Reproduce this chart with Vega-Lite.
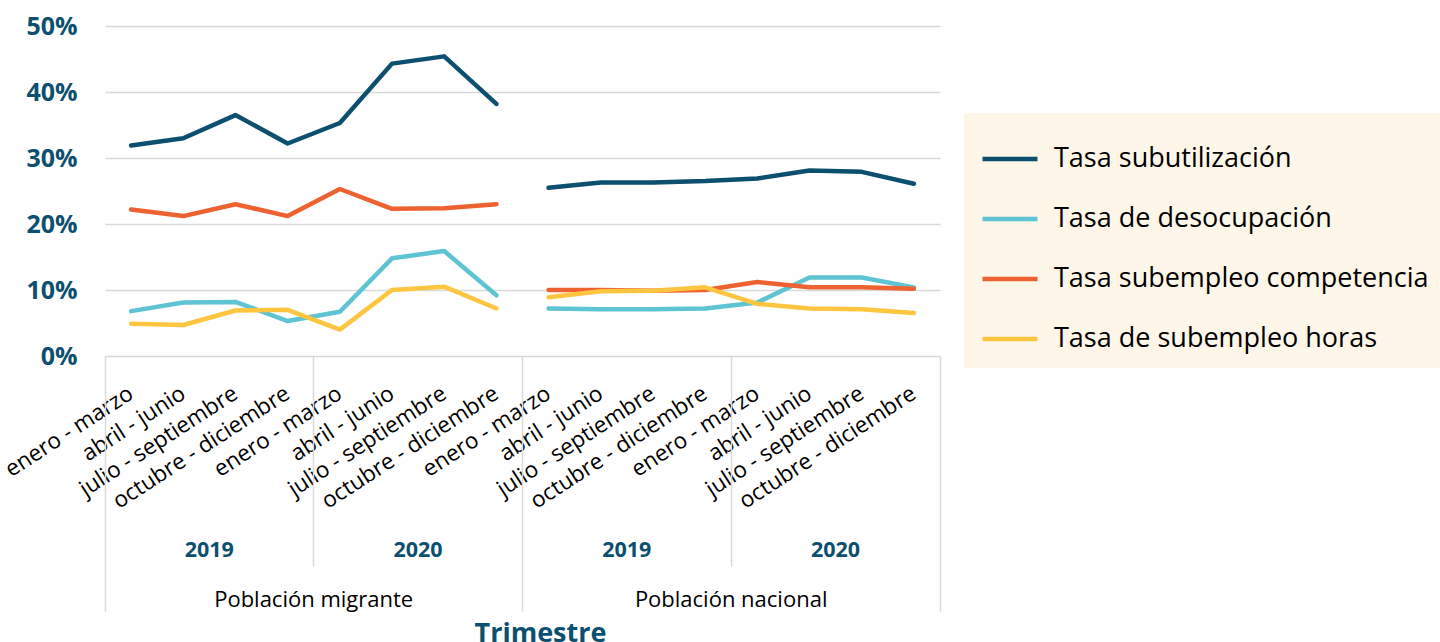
{
  "$schema": "https://vega.github.io/schema/vega-lite/v6.json",
  "width": 835,
  "height": 330,
  "autosize": "none",
  "padding": {"left": 105, "top": 26, "right": 500, "bottom": 286},
  "background": "white",
  "config": {"view": {"stroke": null}, "font": "Open Sans"},
  "data": {"values": [
    {"k":"Población migrante|2019|enero - marzo","p":"M","s":"Tasa subutilización","v":0.319},
    {"k":"Población migrante|2019|abril - junio","p":"M","s":"Tasa subutilización","v":0.330},
    {"k":"Población migrante|2019|julio - septiembre","p":"M","s":"Tasa subutilización","v":0.365},
    {"k":"Población migrante|2019|octubre - diciembre","p":"M","s":"Tasa subutilización","v":0.322},
    {"k":"Población migrante|2020|enero - marzo","p":"M","s":"Tasa subutilización","v":0.353},
    {"k":"Población migrante|2020|abril - junio","p":"M","s":"Tasa subutilización","v":0.443},
    {"k":"Población migrante|2020|julio - septiembre","p":"M","s":"Tasa subutilización","v":0.454},
    {"k":"Población migrante|2020|octubre - diciembre","p":"M","s":"Tasa subutilización","v":0.382},
    {"k":"Población nacional|2019|enero - marzo","p":"N","s":"Tasa subutilización","v":0.255},
    {"k":"Población nacional|2019|abril - junio","p":"N","s":"Tasa subutilización","v":0.263},
    {"k":"Población nacional|2019|julio - septiembre","p":"N","s":"Tasa subutilización","v":0.263},
    {"k":"Población nacional|2019|octubre - diciembre","p":"N","s":"Tasa subutilización","v":0.265},
    {"k":"Población nacional|2020|enero - marzo","p":"N","s":"Tasa subutilización","v":0.269},
    {"k":"Población nacional|2020|abril - junio","p":"N","s":"Tasa subutilización","v":0.281},
    {"k":"Población nacional|2020|julio - septiembre","p":"N","s":"Tasa subutilización","v":0.279},
    {"k":"Población nacional|2020|octubre - diciembre","p":"N","s":"Tasa subutilización","v":0.261},

    {"k":"Población migrante|2019|enero - marzo","p":"M","s":"Tasa de desocupación","v":0.068},
    {"k":"Población migrante|2019|abril - junio","p":"M","s":"Tasa de desocupación","v":0.081},
    {"k":"Población migrante|2019|julio - septiembre","p":"M","s":"Tasa de desocupación","v":0.082},
    {"k":"Población migrante|2019|octubre - diciembre","p":"M","s":"Tasa de desocupación","v":0.053},
    {"k":"Población migrante|2020|enero - marzo","p":"M","s":"Tasa de desocupación","v":0.067},
    {"k":"Población migrante|2020|abril - junio","p":"M","s":"Tasa de desocupación","v":0.148},
    {"k":"Población migrante|2020|julio - septiembre","p":"M","s":"Tasa de desocupación","v":0.159},
    {"k":"Población migrante|2020|octubre - diciembre","p":"M","s":"Tasa de desocupación","v":0.092},
    {"k":"Población nacional|2019|enero - marzo","p":"N","s":"Tasa de desocupación","v":0.072},
    {"k":"Población nacional|2019|abril - junio","p":"N","s":"Tasa de desocupación","v":0.071},
    {"k":"Población nacional|2019|julio - septiembre","p":"N","s":"Tasa de desocupación","v":0.071},
    {"k":"Población nacional|2019|octubre - diciembre","p":"N","s":"Tasa de desocupación","v":0.072},
    {"k":"Población nacional|2020|enero - marzo","p":"N","s":"Tasa de desocupación","v":0.081},
    {"k":"Población nacional|2020|abril - junio","p":"N","s":"Tasa de desocupación","v":0.119},
    {"k":"Población nacional|2020|julio - septiembre","p":"N","s":"Tasa de desocupación","v":0.119},
    {"k":"Población nacional|2020|octubre - diciembre","p":"N","s":"Tasa de desocupación","v":0.104},

    {"k":"Población migrante|2019|enero - marzo","p":"M","s":"Tasa subempleo competencia","v":0.222},
    {"k":"Población migrante|2019|abril - junio","p":"M","s":"Tasa subempleo competencia","v":0.212},
    {"k":"Población migrante|2019|julio - septiembre","p":"M","s":"Tasa subempleo competencia","v":0.230},
    {"k":"Población migrante|2019|octubre - diciembre","p":"M","s":"Tasa subempleo competencia","v":0.212},
    {"k":"Población migrante|2020|enero - marzo","p":"M","s":"Tasa subempleo competencia","v":0.253},
    {"k":"Población migrante|2020|abril - junio","p":"M","s":"Tasa subempleo competencia","v":0.223},
    {"k":"Población migrante|2020|julio - septiembre","p":"M","s":"Tasa subempleo competencia","v":0.224},
    {"k":"Población migrante|2020|octubre - diciembre","p":"M","s":"Tasa subempleo competencia","v":0.230},
    {"k":"Población nacional|2019|enero - marzo","p":"N","s":"Tasa subempleo competencia","v":0.100},
    {"k":"Población nacional|2019|abril - junio","p":"N","s":"Tasa subempleo competencia","v":0.100},
    {"k":"Población nacional|2019|julio - septiembre","p":"N","s":"Tasa subempleo competencia","v":0.099},
    {"k":"Población nacional|2019|octubre - diciembre","p":"N","s":"Tasa subempleo competencia","v":0.100},
    {"k":"Población nacional|2020|enero - marzo","p":"N","s":"Tasa subempleo competencia","v":0.112},
    {"k":"Población nacional|2020|abril - junio","p":"N","s":"Tasa subempleo competencia","v":0.104},
    {"k":"Población nacional|2020|julio - septiembre","p":"N","s":"Tasa subempleo competencia","v":0.104},
    {"k":"Población nacional|2020|octubre - diciembre","p":"N","s":"Tasa subempleo competencia","v":0.102},

    {"k":"Población migrante|2019|enero - marzo","p":"M","s":"Tasa de subempleo horas","v":0.049},
    {"k":"Población migrante|2019|abril - junio","p":"M","s":"Tasa de subempleo horas","v":0.047},
    {"k":"Población migrante|2019|julio - septiembre","p":"M","s":"Tasa de subempleo horas","v":0.069},
    {"k":"Población migrante|2019|octubre - diciembre","p":"M","s":"Tasa de subempleo horas","v":0.070},
    {"k":"Población migrante|2020|enero - marzo","p":"M","s":"Tasa de subempleo horas","v":0.040},
    {"k":"Población migrante|2020|abril - junio","p":"M","s":"Tasa de subempleo horas","v":0.100},
    {"k":"Población migrante|2020|julio - septiembre","p":"M","s":"Tasa de subempleo horas","v":0.105},
    {"k":"Población migrante|2020|octubre - diciembre","p":"M","s":"Tasa de subempleo horas","v":0.072},
    {"k":"Población nacional|2019|enero - marzo","p":"N","s":"Tasa de subempleo horas","v":0.089},
    {"k":"Población nacional|2019|abril - junio","p":"N","s":"Tasa de subempleo horas","v":0.098},
    {"k":"Población nacional|2019|julio - septiembre","p":"N","s":"Tasa de subempleo horas","v":0.099},
    {"k":"Población nacional|2019|octubre - diciembre","p":"N","s":"Tasa de subempleo horas","v":0.104},
    {"k":"Población nacional|2020|enero - marzo","p":"N","s":"Tasa de subempleo horas","v":0.079},
    {"k":"Población nacional|2020|abril - junio","p":"N","s":"Tasa de subempleo horas","v":0.072},
    {"k":"Población nacional|2020|julio - septiembre","p":"N","s":"Tasa de subempleo horas","v":0.071},
    {"k":"Población nacional|2020|octubre - diciembre","p":"N","s":"Tasa de subempleo horas","v":0.065}
  ]},
  "resolve": {"scale": {"x": "independent"}, "axis": {"x": "independent"}},
  "layer": [
    {
      "mark": {"type": "line", "strokeWidth": 4.5, "strokeCap": "round", "strokeJoin": "round"},
      "encoding": {
        "x": {"field": "k", "type": "nominal", "sort": null, "bandPosition": 0.5,
          "scale": {"type": "band", "paddingInner": 0, "paddingOuter": 0},
          "axis": {"orient": "bottom", "bandPosition": 0.5, "title": null, "domain": false, "ticks": false, "grid": false,
            "labelExpr": "split(datum.label, '|')[2]", "labelAngle": -33, "labelAlign": "right", "labelBaseline": "middle",
            "labelPadding": 35, "labelFontSize": 22.5, "labelColor": "#000000", "labelFont": "Open Sans",
            "labelOverlap": false, "labelBound": false, "labelFlush": false, "labelLimit": 400}},
        "y": {"field": "v", "type": "quantitative",
          "scale": {"domain": [0, 0.5], "nice": false, "zero": true},
          "axis": {"title": null, "values": [0, 0.1, 0.2, 0.3, 0.4, 0.5], "format": ".0%", "domain": false, "ticks": false,
            "grid": true, "gridColor": "#d9d9d9", "gridWidth": 1.5,
            "labelFontSize": 25, "labelFontWeight": "bold", "labelColor": "#0c4f6e", "labelFont": "Open Sans", "labelPadding": 28}},
        "color": {"field": "s", "type": "nominal",
          "scale": {"domain": ["Tasa subutilización", "Tasa de desocupación", "Tasa subempleo competencia", "Tasa de subempleo horas"],
                    "range": ["#0c4f6e", "#5ec3d2", "#ee6231", "#fec540"]},
          "legend": {"orient": "none", "legendX": 859, "legendY": 87, "title": null,
            "fillColor": "#fdf6e9", "padding": 16, "symbolType": "stroke", "symbolSize": 3025, "symbolStrokeWidth": 4.5,
            "labelFontSize": 27, "labelFont": "Open Sans", "labelColor": "#000000", "labelOffset": 14, "labelLimit": 600, "rowPadding": 17}},
        "detail": {"field": "p", "type": "nominal"}
      }
    },
    {
      "mark": {"type": "point", "opacity": 0},
      "encoding": {
        "x": {"field": "k", "type": "nominal", "sort": null,
          "scale": {"type": "band", "paddingInner": 0, "paddingOuter": 0},
          "axis": {"orient": "bottom", "values": ["Población migrante|2019|enero - marzo", "Población nacional|2019|enero - marzo"],
            "bandPosition": 0, "title": null, "domain": false, "grid": false, "labels": false,
            "ticks": true, "tickSize": 255, "tickColor": "#d9d9d9", "tickWidth": 1.5}}
      }
    },
    {
      "mark": {"type": "point", "opacity": 0},
      "encoding": {
        "x": {"field": "k", "type": "nominal", "sort": null,
          "scale": {"type": "band", "paddingInner": 0, "paddingOuter": 0},
          "axis": {"orient": "bottom", "values": ["Población nacional|2020|octubre - diciembre"],
            "bandPosition": 1, "title": null, "domain": false, "grid": false, "labels": false,
            "ticks": true, "tickSize": 255, "tickColor": "#d9d9d9", "tickWidth": 1.5}}
      }
    },
    {
      "mark": {"type": "point", "opacity": 0},
      "encoding": {
        "x": {"field": "k", "type": "nominal", "sort": null,
          "scale": {"type": "band", "paddingInner": 0, "paddingOuter": 0},
          "axis": {"orient": "bottom", "values": ["Población migrante|2020|enero - marzo", "Población nacional|2020|enero - marzo"],
            "bandPosition": 0, "title": null, "domain": false, "grid": false, "labels": false,
            "ticks": true, "tickSize": 210, "tickColor": "#d9d9d9", "tickWidth": 1.5}}
      }
    },
    {
      "mark": {"type": "point", "opacity": 0},
      "encoding": {
        "x": {"field": "k", "type": "nominal", "sort": null,
          "scale": {"type": "band", "paddingInner": 0, "paddingOuter": 0},
          "axis": {"orient": "bottom", "values": ["Población migrante|2019|abril - junio", "Población migrante|2020|abril - junio", "Población nacional|2019|abril - junio", "Población nacional|2020|abril - junio"],
            "bandPosition": 0.5, "labelOffset": 26, "title": null, "domain": false, "grid": false, "ticks": false,
            "labelExpr": "split(datum.label, '|')[1]", "labelAngle": 0, "labelAlign": "center", "labelBaseline": "middle",
            "labelPadding": 194, "labelFontSize": 21.5, "labelFontWeight": "bold", "labelColor": "#0c4f6e", "labelFont": "Open Sans",
            "labelOverlap": false, "labelBound": false, "labelFlush": false}}
      }
    },
    {
      "mark": {"type": "point", "opacity": 0},
      "encoding": {
        "x": {"field": "k", "type": "nominal", "sort": null,
          "scale": {"type": "band", "paddingInner": 0, "paddingOuter": 0},
          "axis": {"orient": "bottom", "values": ["Población migrante|2019|octubre - diciembre", "Población nacional|2019|octubre - diciembre"],
            "bandPosition": 0.5, "labelOffset": 26, "domain": false, "grid": false, "ticks": false,
            "labelExpr": "split(datum.label, '|')[0]", "labelAngle": 0, "labelAlign": "center", "labelBaseline": "middle",
            "labelPadding": 243, "labelFontSize": 22, "labelColor": "#000000", "labelFont": "Open Sans",
            "labelOverlap": false, "labelBound": false, "labelFlush": false, "labelLimit": 400,
            "title": "Trimestre", "titleFontSize": 27, "titleFontWeight": "bold", "titleColor": "#0c4f6e", "titleFont": "Open Sans",
            "titleX": 435, "titleY": 277, "titleAlign": "center", "titleBaseline": "middle"}}
      }
    }
  ]
}
